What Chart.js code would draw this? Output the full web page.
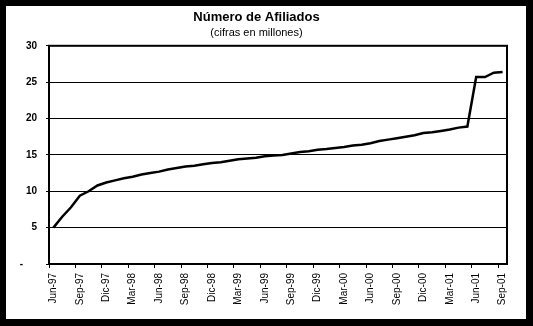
<!DOCTYPE html>
<html>
<head>
<meta charset="utf-8">
<script src="https://cdn.jsdelivr.net/npm/chart.js@4"></script>
<style>
  html, body { margin: 0; padding: 0; background: #000; width: 533px; height: 326px; overflow: hidden; }
  #wrap { position: absolute; left: 6px; top: 6px; width: 520px; height: 313px; background: #fff; }
</style>
</head>
<body>
<div id="wrap"><canvas id="afiliados"></canvas></div>
<script>
// meses (jun-97 a sep-01)
const meses = [
  "Jun-97", "Jul-97", "Ago-97", "Sep-97", "Oct-97", "Nov-97", "Dic-97",
  "Ene-98", "Feb-98", "Mar-98", "Abr-98", "May-98", "Jun-98", "Jul-98", "Ago-98", "Sep-98", "Oct-98", "Nov-98", "Dic-98",
  "Ene-99", "Feb-99", "Mar-99", "Abr-99", "May-99", "Jun-99", "Jul-99", "Ago-99", "Sep-99", "Oct-99", "Nov-99", "Dic-99",
  "Ene-00", "Feb-00", "Mar-00", "Abr-00", "May-00", "Jun-00", "Jul-00", "Ago-00", "Sep-00", "Oct-00", "Nov-00", "Dic-00",
  "Ene-01", "Feb-01", "Mar-01", "Abr-01", "May-01", "Jun-01", "Jul-01", "Ago-01", "Sep-01"
];

// afiliados en millones
const afiliados = [
  5.0, 6.5, 7.8, 9.4, 10.0, 10.8, 11.2,
  11.5, 11.8, 12.0, 12.3, 12.5, 12.7, 13.0, 13.2, 13.4, 13.5, 13.7, 13.9,
  14.0, 14.2, 14.4, 14.5, 14.6, 14.8, 14.9, 15.0, 15.2, 15.4, 15.5, 15.7,
  15.8, 15.95, 16.1, 16.3, 16.4, 16.6, 16.9, 17.1, 17.3, 17.5, 17.7, 18.0,
  18.1, 18.3, 18.5, 18.75, 18.9, 25.7, 25.7, 26.3, 26.4
];

// eje y
const yMin = 0;
const yMax = 30;
const yPaso = 5;

// marco del area de trazado
const plotFrame = {
  id: 'plotFrame',
  afterDraw(chart) {
    const { ctx, chartArea: a } = chart;
    ctx.save();
    ctx.strokeStyle = '#000';
    ctx.lineWidth = 2;
    ctx.strokeRect(a.left, a.top, a.right - a.left, a.bottom - a.top);
    ctx.restore();
  }
};

Chart.defaults.font.family = "'Liberation Sans', Arial, sans-serif";
Chart.defaults.color = '#000';

new Chart(document.getElementById('afiliados').getContext('2d'), {
  type: 'line',
  data: {
    labels: meses,
    datasets: [{
      label: 'Afiliados',
      data: afiliados,
      borderColor: '#000',
      borderWidth: 2.5,
      pointRadius: 0,
      tension: 0,
      fill: false
    }]
  },
  options: {
    responsive: true,
    maintainAspectRatio: false,
    animation: false,
    layout: { padding: { left: 0, right: 19, top: 0, bottom: 0 } },
    plugins: {
      legend: { display: false },
      tooltip: { enabled: false },
      title: {
        display: true,
        text: 'Número de Afiliados',
        font: { size: 13, weight: 'bold' },
        padding: { top: 4, bottom: 1 }
      },
      subtitle: {
        display: true,
        text: '(cifras en millones)',
        font: { size: 11 },
        padding: { top: 0, bottom: 6 }
      }
    },
    scales: {
      x: {
        offset: true,
        grid: {
          offset: true,
          drawOnChartArea: false,
          drawTicks: true,
          tickLength: 4,
          tickColor: (ctx) => (ctx.index % 3 === 0 ? '#000' : 'rgba(0,0,0,0)')
        },
        border: { display: true, color: '#000', width: 2 },
        ticks: {
          autoSkip: false,
          maxRotation: 90,
          minRotation: 90,
          padding: 5,
          font: { size: 10 },
          callback: function (value, index) {
            return index % 3 === 0 ? this.getLabelForValue(value) : '';
          }
        },
        afterFit: (scale) => { scale.height = 55; }
      },
      y: {
        min: yMin,
        max: yMax,
        ticks: {
          stepSize: yPaso,
          padding: 9,
          font: { size: 10, weight: 'bold' },
          callback: (v) => (v === 0 ? '-     ' : v)
        },
        grid: { color: '#000', lineWidth: 1, tickLength: 3, tickColor: '#000' },
        border: { display: true, color: '#000', width: 2 },
        afterFit: (scale) => { scale.width = 43; }
      }
    }
  },
  plugins: [plotFrame]
});
</script>
</body>
</html>
